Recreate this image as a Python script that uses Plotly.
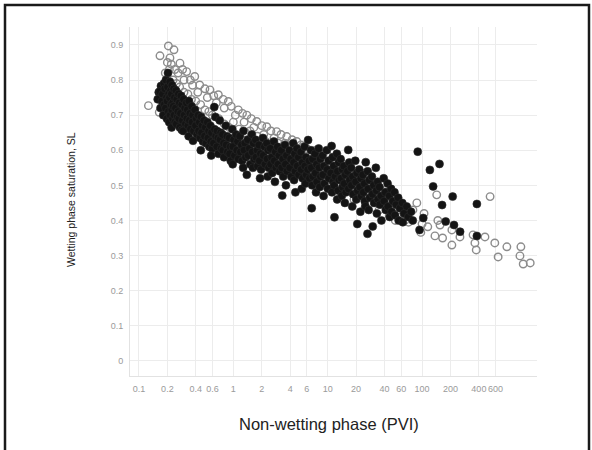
import plotly.graph_objects as go

# ---------------- data ----------------
x_ticks = [0.1, 0.2, 0.4, 0.6, 1, 2, 4, 6, 10, 20, 40, 60, 100, 200, 400, 600]
x_tick_labels = ["0.1", "0.2", "0.4", "0.6", "1", "2", "4", "6", "10", "20",
                 "40", "60", "100", "200", "400", "600"]
y_ticks = [0, 0.1, 0.2, 0.3, 0.4, 0.5, 0.6, 0.7, 0.8, 0.9]
y_tick_labels = ["0", "0.1", "0.2", "0.3", "0.4", "0.5", "0.6", "0.7", "0.8", "0.9"]

# filled (black) points: (PVI, saturation)
filled_points = [
    (0.162, 0.765), (0.158, 0.745),
    (0.171, 0.783), (0.166, 0.767), (0.175, 0.74), (0.169, 0.72),
    (0.184, 0.79), (0.178, 0.76), (0.186, 0.73), (0.181, 0.70),
    (0.193, 0.80), (0.188, 0.775), (0.196, 0.75), (0.191, 0.72), (0.198, 0.69),
    (0.203, 0.82), (0.201, 0.78), (0.207, 0.76), (0.199, 0.74), (0.205, 0.71), (0.209, 0.68),
    (0.213, 0.795), (0.217, 0.77), (0.211, 0.75), (0.219, 0.73), (0.214, 0.70),
    (0.224, 0.785), (0.221, 0.76), (0.228, 0.735), (0.223, 0.715), (0.227, 0.69), (0.222, 0.665),
    (0.234, 0.775), (0.238, 0.75), (0.231, 0.725), (0.236, 0.70), (0.241, 0.68),
    (0.247, 0.77), (0.252, 0.745), (0.244, 0.72), (0.255, 0.695), (0.249, 0.675),
    (0.262, 0.76), (0.268, 0.735), (0.259, 0.71), (0.265, 0.69), (0.271, 0.665),
    (0.279, 0.755), (0.285, 0.73), (0.276, 0.705), (0.289, 0.685), (0.284, 0.658),
    (0.297, 0.745), (0.306, 0.72), (0.301, 0.70), (0.311, 0.675), (0.294, 0.655),
    (0.318, 0.735), (0.326, 0.715), (0.322, 0.69), (0.331, 0.67),
    (0.338, 0.74), (0.347, 0.705), (0.343, 0.685), (0.352, 0.66), (0.336, 0.64),
    (0.362, 0.725), (0.371, 0.70), (0.366, 0.68), (0.379, 0.655), (0.374, 0.627),
    (0.392, 0.715), (0.405, 0.69), (0.398, 0.67), (0.412, 0.645),
    (0.424, 0.70), (0.437, 0.68), (0.429, 0.655), (0.445, 0.635),
    (0.456, 0.695), (0.468, 0.67), (0.461, 0.65), (0.476, 0.625), (0.452, 0.60),
    (0.489, 0.685), (0.505, 0.665), (0.496, 0.64), (0.514, 0.62),
    (0.531, 0.68), (0.548, 0.655), (0.539, 0.635), (0.557, 0.61),
    (0.571, 0.67), (0.588, 0.65), (0.579, 0.625), (0.597, 0.605), (0.583, 0.585),
    (0.628, 0.723), (0.645, 0.695), (0.632, 0.66), (0.651, 0.64), (0.617, 0.62),
    (0.673, 0.655), (0.688, 0.635), (0.669, 0.61), (0.694, 0.59),
    (0.718, 0.685), (0.736, 0.65), (0.725, 0.63), (0.745, 0.605),
    (0.768, 0.645), (0.789, 0.62), (0.775, 0.60), (0.797, 0.58),
    (0.832, 0.67), (0.858, 0.64), (0.841, 0.615), (0.866, 0.595),
    (0.905, 0.635), (0.929, 0.61), (0.914, 0.59), (0.938, 0.57),
    (0.975, 0.66), (1.01, 0.63), (0.99, 0.61), (1.03, 0.585), (0.985, 0.56),
    (1.07, 0.645), (1.11, 0.625), (1.09, 0.60), (1.13, 0.575),
    (1.17, 0.64), (1.22, 0.615), (1.19, 0.595), (1.24, 0.57),
    (1.28, 0.655), (1.33, 0.62), (1.30, 0.60), (1.35, 0.58), (1.27, 0.55),
    (1.39, 0.53),
    (1.42, 0.63), (1.48, 0.605), (1.44, 0.585), (1.51, 0.56),
    (1.57, 0.645), (1.63, 0.62), (1.59, 0.595), (1.66, 0.575), (1.61, 0.55),
    (1.72, 0.63), (1.79, 0.60), (1.74, 0.58), (1.81, 0.555),
    (1.87, 0.615), (1.94, 0.59), (1.89, 0.57), (1.97, 0.545), (1.92, 0.52),
    (2.06, 0.635), (2.14, 0.61), (2.08, 0.585), (2.17, 0.56),
    (2.26, 0.62), (2.34, 0.60), (2.28, 0.575), (2.37, 0.55), (2.31, 0.525),
    (2.46, 0.605), (2.55, 0.58), (2.49, 0.56), (2.58, 0.535),
    (2.69, 0.625), (2.79, 0.595), (2.72, 0.57), (2.83, 0.55), (2.76, 0.51),
    (2.94, 0.61), (3.05, 0.585), (2.98, 0.56), (3.09, 0.54),
    (3.22, 0.60), (3.35, 0.575), (3.26, 0.55), (3.38, 0.525), (3.3, 0.471),
    (3.52, 0.615), (3.66, 0.585), (3.57, 0.56), (3.71, 0.54), (3.61, 0.50),
    (3.92, 0.60), (4.06, 0.575), (3.96, 0.55), (4.11, 0.525),
    (4.31, 0.62), (4.47, 0.59), (4.36, 0.565), (4.52, 0.54), (4.4, 0.515), (4.55, 0.48),
    (4.72, 0.605), (4.89, 0.58), (4.76, 0.555), (4.94, 0.53),
    (5.19, 0.595), (5.38, 0.565), (5.24, 0.545), (5.43, 0.52), (5.31, 0.49),
    (5.69, 0.61), (5.88, 0.58), (5.74, 0.555), (5.93, 0.53), (5.81, 0.505),
    (6.2, 0.629), (6.36, 0.57), (6.15, 0.545), (6.42, 0.52),
    (6.66, 0.60), (6.91, 0.575), (6.72, 0.55), (6.97, 0.525), (6.84, 0.50), (6.77, 0.435),
    (7.33, 0.59), (7.62, 0.56), (7.41, 0.535), (7.68, 0.51), (7.52, 0.48),
    (8.03, 0.605), (8.34, 0.575), (8.11, 0.55), (8.41, 0.525), (8.22, 0.495),
    (8.83, 0.585), (9.15, 0.555), (8.92, 0.53), (9.24, 0.505), (9.04, 0.47),
    (9.78, 0.60), (10.2, 0.57), (9.9, 0.545), (10.3, 0.52), (10.05, 0.49),
    (11.0, 0.612), (11.3, 0.58), (10.8, 0.535), (11.4, 0.51), (11.1, 0.48),
    (11.6, 0.555), (12.0, 0.525), (11.7, 0.50), (11.8, 0.409),
    (12.5, 0.59), (13.1, 0.565), (12.7, 0.54), (13.2, 0.515), (12.9, 0.485), (12.6, 0.46),
    (13.7, 0.575), (14.3, 0.545), (13.9, 0.52), (14.4, 0.495), (14.1, 0.47),
    (14.8, 0.555), (15.4, 0.53), (15.0, 0.505), (15.6, 0.48), (15.2, 0.45),
    (16.5, 0.601), (16.9, 0.565), (16.2, 0.54), (17.1, 0.515), (16.6, 0.49),
    (17.7, 0.55), (18.4, 0.525), (17.9, 0.50), (18.6, 0.475), (18.2, 0.44),
    (19.6, 0.57), (20.4, 0.535), (19.8, 0.51), (20.7, 0.485), (20.1, 0.46), (20.6, 0.39),
    (21.6, 0.545), (22.5, 0.52), (21.9, 0.495), (22.7, 0.47), (22.2, 0.425),
    (23.6, 0.53), (24.5, 0.505), (23.9, 0.48), (24.7, 0.455),
    (25.3, 0.566), (25.1, 0.44), (26.4, 0.362),
    (26.5, 0.54), (27.6, 0.515), (26.8, 0.49), (27.9, 0.465), (27.2, 0.43),
    (29.4, 0.525), (30.7, 0.50), (29.8, 0.475), (31.0, 0.45), (30.0, 0.383),
    (32.4, 0.55), (33.8, 0.51), (32.8, 0.485), (34.1, 0.46), (33.2, 0.42),
    (35.3, 0.495), (36.8, 0.47), (35.7, 0.445), (37.1, 0.40),
    (39.2, 0.52), (40.9, 0.48), (39.6, 0.455), (41.3, 0.43),
    (43.1, 0.505), (45.0, 0.47), (43.6, 0.44), (45.4, 0.41),
    (47.0, 0.49), (49.1, 0.455), (47.6, 0.425),
    (51.0, 0.48), (53.2, 0.445), (51.6, 0.415),
    (55.8, 0.465), (58.3, 0.435), (56.5, 0.40),
    (61.7, 0.45), (64.4, 0.42), (62.5, 0.395),
    (68.6, 0.44), (71.5, 0.41),
    (76.4, 0.425), (79.7, 0.40),
    (90, 0.596), (94, 0.373), (103, 0.407), (121, 0.544), (131, 0.497),
    (153, 0.561), (163, 0.444), (178, 0.397), (211, 0.468), (218, 0.387),
    (253, 0.368), (381, 0.447), (381, 0.356),
]

# open (gray ring) points: (PVI, saturation)
open_points = [
    (0.126, 0.727), (0.164, 0.708), (0.203, 0.706), (0.18, 0.72),
    (0.205, 0.897), (0.235, 0.886), (0.167, 0.869), (0.213, 0.863), (0.22, 0.845),
    (0.20, 0.85), (0.24, 0.83), (0.272, 0.848), (0.26, 0.82), (0.29, 0.83),
    (0.32, 0.824), (0.30, 0.80), (0.35, 0.80), (0.39, 0.81), (0.37, 0.785),
    (0.44, 0.786), (0.42, 0.765), (0.50, 0.775), (0.566, 0.772), (0.53, 0.75),
    (0.62, 0.755), (0.694, 0.758), (0.66, 0.735), (0.78, 0.745), (0.885, 0.739),
    (0.80, 0.72), (0.95, 0.725), (1.13, 0.715), (1.05, 0.70), (1.25, 0.705),
    (1.39, 0.70), (1.3, 0.68), (1.55, 0.69), (1.77, 0.682), (1.65, 0.665),
    (2.0, 0.67), (2.26, 0.667), (2.1, 0.645), (2.5, 0.655), (2.88, 0.653),
    (2.7, 0.635), (3.2, 0.645), (3.68, 0.639), (3.5, 0.62), (4.2, 0.63),
    (4.7, 0.625), (5.2, 0.615), (5.5, 0.61), (6.0, 0.605), (7.5, 0.60),
    (8.5, 0.59), (10, 0.585), (12, 0.575), (14, 0.565), (17, 0.555),
    (20, 0.54), (23, 0.535), (27, 0.52), (31, 0.505), (36, 0.49),
    (41, 0.48), (47, 0.465), (54, 0.455), (62, 0.445), (70, 0.435),
    (80, 0.43), (88, 0.45),
    (0.19, 0.82), (0.21, 0.83), (0.23, 0.80), (0.25, 0.79), (0.27, 0.78),
    (0.30, 0.765), (0.33, 0.76), (0.36, 0.745), (0.40, 0.74), (0.45, 0.73),
    (0.50, 0.715), (0.55, 0.71), (0.60, 0.70), (0.70, 0.69), (0.80, 0.675),
    (0.90, 0.665), (1.0, 0.68), (1.15, 0.66), (1.35, 0.65), (1.5, 0.655),
    (1.8, 0.64), (2.2, 0.625), (2.6, 0.61), (3.0, 0.62), (3.4, 0.60),
    (3.9, 0.59), (4.5, 0.595), (5.0, 0.58), (6.0, 0.57), (7.0, 0.575),
    (8.0, 0.56), (9.5, 0.55), (11, 0.54), (13, 0.53), (15, 0.52),
    (18, 0.51), (21, 0.50), (24, 0.49), (28, 0.475), (32, 0.46),
    (38, 0.45), (44, 0.44), (50, 0.43), (55, 0.42), (60, 0.41),
    (66, 0.40), (72, 0.395), (45, 0.415), (52, 0.40), (3.6, 0.56),
    (9.0, 0.50), (19, 0.46), (14, 0.48), (25, 0.44), (35, 0.43),
    (0.60, 0.64), (0.35, 0.70), (1.2, 0.62), (2.0, 0.60),
    (526, 0.468), (143, 0.473), (147, 0.40), (155, 0.387), (137, 0.356),
    (165, 0.35), (207, 0.33), (207, 0.373), (252, 0.353), (347, 0.359),
    (363, 0.336), (375, 0.316), (464, 0.353), (590, 0.336), (640, 0.296),
    (792, 0.325), (1115, 0.325), (1090, 0.299), (1180, 0.276), (1400, 0.279),
    (115, 0.382), (97, 0.366), (100, 0.39), (105, 0.42),
]

x_title = "Non-wetting phase (PVI)"
y_title = "Wetting phase saturation, SL"

# ---------------- figure ----------------
W, H = 592, 450
ML, MR, MT, MB = 130, 55, 27, 74
PW, PH = W - ML - MR, H - MT - MB

fig = go.Figure()
fig.add_trace(go.Scatter(
    x=[p[0] for p in open_points], y=[p[1] for p in open_points],
    mode="markers",
    marker=dict(symbol="circle-open", size=7.5, color="#8c8c8c",
                line=dict(width=1.4, color="#8c8c8c")),
    showlegend=False, hoverinfo="skip"))
fig.add_trace(go.Scatter(
    x=[p[0] for p in filled_points], y=[p[1] for p in filled_points],
    mode="markers",
    marker=dict(symbol="circle", size=8, color="#141414",
                line=dict(width=0.6, color="#2a2a2a")),
    showlegend=False, hoverinfo="skip"))

tick_font = dict(family="Liberation Sans, Arial, sans-serif", size=9, color="#9a9a9a")

fig.update_xaxes(
    type="log", range=[-1.095, 3.218],
    tickvals=x_ticks, ticktext=x_tick_labels, tickfont=tick_font, tickangle=0,
    showgrid=True, gridcolor="#ececec", gridwidth=1,
    showline=True, linecolor="#e2e2e2", linewidth=1,
    ticks="", zeroline=False, ticklabelstandoff=4)
fig.update_yaxes(
    range=[-0.043, 0.951],
    tickvals=y_ticks, ticktext=y_tick_labels, tickfont=tick_font,
    showgrid=True, gridcolor="#ececec", gridwidth=1,
    showline=True, linecolor="#e2e2e2", linewidth=1,
    ticks="", zeroline=False, ticklabelstandoff=4)

fig.add_annotation(text=x_title, xref="paper", yref="paper",
                   x=(329 - ML) / PW, y=-(424 - (H - MB)) / PH,
                   xanchor="center", yanchor="middle", showarrow=False,
                   font=dict(family="Liberation Sans, Arial, sans-serif", size=16.5, color="#222222"))
fig.add_annotation(text=y_title, xref="paper", yref="paper",
                   x=(71 - ML) / PW, y=((H - MB) - 200) / PH, textangle=-90,
                   xanchor="center", yanchor="middle", showarrow=False,
                   font=dict(family="Liberation Sans, Arial, sans-serif", size=10.5, color="#222222"))

# outer black frame of the picture
fig.add_shape(type="rect", xref="paper", yref="paper",
              x0=(5 - ML) / PW, x1=(589 - ML) / PW,
              y0=((H - MB) - 460) / PH, y1=((H - MB) - 5) / PH,
              line=dict(color="#1a1a1a", width=2.5), fillcolor="rgba(0,0,0,0)")

fig.update_layout(
    width=W, height=H,
    margin=dict(l=ML, r=MR, t=MT, b=MB),
    paper_bgcolor="white", plot_bgcolor="white",
)

fig.write_html("out.html")
